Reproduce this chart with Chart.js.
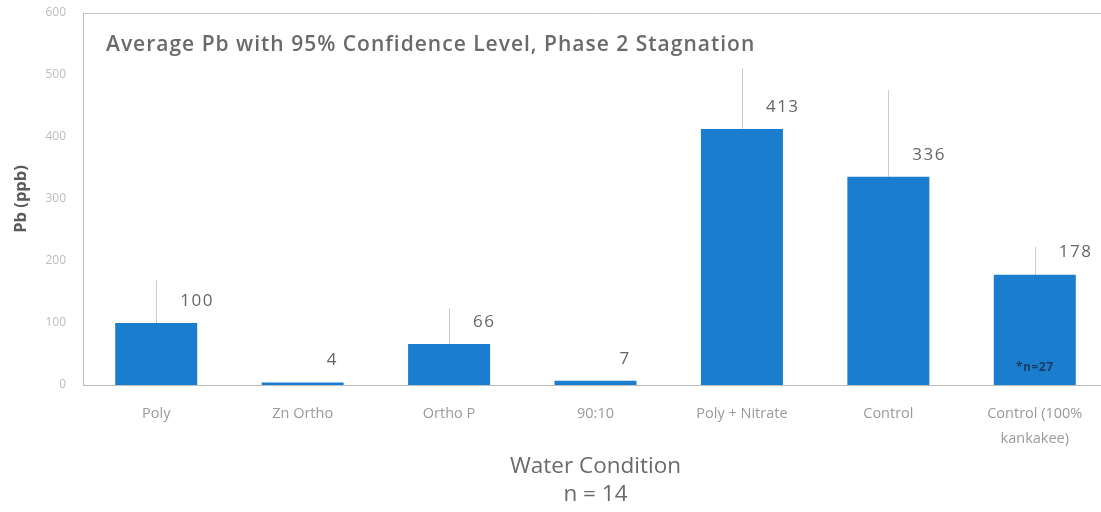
<!DOCTYPE html>
<html>
<head>
<meta charset="utf-8">
<title>Average Pb, Phase 2 Stagnation</title>
<script src="https://cdn.jsdelivr.net/npm/chart.js@4.4.1/dist/chart.umd.min.js"></script>
<style>
  html, body { margin: 0; padding: 0; background: #fff; overflow: hidden; }
  #wrap { width: 1108px; height: 512px; position: relative; }
</style>
</head>
<body>
<div id="wrap"><canvas id="chart"></canvas></div>
<script>
// Water conditions tested
const categories = [
  'Poly', 'Zn Ortho', 'Ortho P', '90:10', 'Poly + Nitrate', 'Control',
  ['Control (100%', 'kankakee)']
];
// Average lead concentration, ppb
const avgPb = [100, 4, 66, 7, 413, 336, 178];
// Upper end of the 95% confidence interval, ppb (null where not shown)
const ciUpper = [169, null, 124, null, 511, 476, 223];
// Y axis ticks
const yTicks = [0, 100, 200, 300, 400, 500, 600];

const chartTitle = 'Average Pb with 95% Confidence Level, Phase 2 Stagnation';
const barNote = { index: 6, text: '*n=27' };

const FONT = '"Open Sans", "Liberation Sans", sans-serif';

// Frame line along the top of the plot area
const frameTop = {
  id: 'frameTop',
  beforeDatasetsDraw(chart) {
    const { ctx, chartArea } = chart;
    ctx.save();
    ctx.strokeStyle = '#c4c4c4';
    ctx.lineWidth = 1;
    ctx.beginPath();
    ctx.moveTo(chartArea.left, chartArea.top + 0.5);
    ctx.lineTo(chartArea.right, chartArea.top + 0.5);
    ctx.stroke();
    ctx.restore();
  }
};

// Upper confidence whiskers, drawn behind the bars
const whiskers = {
  id: 'whiskers',
  beforeDatasetsDraw(chart) {
    const { ctx } = chart;
    const meta = chart.getDatasetMeta(0);
    const y = chart.scales.y;
    ctx.save();
    ctx.strokeStyle = '#cdcdcd';
    ctx.lineWidth = 1;
    meta.data.forEach((bar, i) => {
      if (ciUpper[i] == null) return;
      const x = Math.round(bar.x) + 0.5;
      ctx.beginPath();
      ctx.moveTo(x, y.getPixelForValue(ciUpper[i]));
      ctx.lineTo(x, y.getPixelForValue(avgPb[i]));
      ctx.stroke();
    });
    ctx.restore();
  }
};

// Value labels, chart heading and bar note
const annotations = {
  id: 'annotations',
  afterDatasetsDraw(chart) {
    const { ctx, chartArea } = chart;
    const meta = chart.getDatasetMeta(0);
    ctx.save();
    ctx.font = '17px ' + FONT;
    ctx.letterSpacing = '1.5px';
    ctx.fillStyle = '#666';
    ctx.textAlign = 'left';
    ctx.textBaseline = 'middle';
    meta.data.forEach((bar, i) => {
      ctx.fillText(String(avgPb[i]), bar.x + 24, bar.y - 22);
    });

    const nb = meta.data[barNote.index];
    ctx.letterSpacing = '0.5px';
    ctx.font = 'bold 12px ' + FONT;
    ctx.fillStyle = '#1d3c66';
    ctx.textAlign = 'center';
    ctx.fillText(barNote.text, nb.x, chartArea.bottom - 17);

    ctx.letterSpacing = '1px';
    ctx.font = '600 21px ' + FONT;
    ctx.fillStyle = '#6a6a6a';
    ctx.textAlign = 'left';
    ctx.fillText(chartTitle, chartArea.left + 23, chartArea.top + 32);
    ctx.restore();
  }
};

new Chart(document.getElementById('chart'), {
  type: 'bar',
  data: {
    labels: categories,
    datasets: [{
      data: avgPb,
      backgroundColor: '#1a7dcd',
      borderWidth: 0,
      categoryPercentage: 1.0,
      barPercentage: 0.56
    }]
  },
  options: {
    responsive: true,
    maintainAspectRatio: false,
    animation: false,
    layout: { padding: { top: 13, right: 0, bottom: 0, left: 0 } },
    plugins: {
      legend: { display: false },
      tooltip: { enabled: false },
      title: { display: false }
    },
    scales: {
      x: {
        grid: { display: false, drawTicks: false },
        border: { display: true, color: '#bdbdbd', width: 1 },
        ticks: {
          color: '#9a9a9a',
          font: { family: FONT, size: 14.5, lineHeight: '25px' },
          padding: 16,
          maxRotation: 0,
          autoSkip: false
        },
        title: {
          display: true,
          text: ['Water Condition', 'n = 14'],
          color: '#6a6a6a',
          font: { family: FONT, size: 22.5, lineHeight: '28px' },
          padding: { top: 0, bottom: 3 }
        },
        afterFit(scale) { scale.height = 127; }
      },
      y: {
        min: 0,
        max: 600,
        afterBuildTicks(scale) { scale.ticks = yTicks.map(v => ({ value: v })); },
        grid: { display: false, drawTicks: false },
        border: { display: true, color: '#bdbdbd', width: 1 },
        ticks: {
          color: '#bcbcbc',
          font: { family: FONT, size: 12 },
          padding: 17
        },
        title: {
          display: true,
          text: 'Pb (ppb)',
          color: '#5a5a5a',
          font: { family: FONT, size: 16.5, weight: 'bold' },
          padding: { top: 11, bottom: 0 }
        },
        afterFit(scale) {
          scale.width = 83;
          scale.paddingTop = 0;
          scale.paddingBottom = 0;
        }
      }
    }
  },
  plugins: [frameTop, whiskers, annotations]
});
</script>
</body>
</html>
